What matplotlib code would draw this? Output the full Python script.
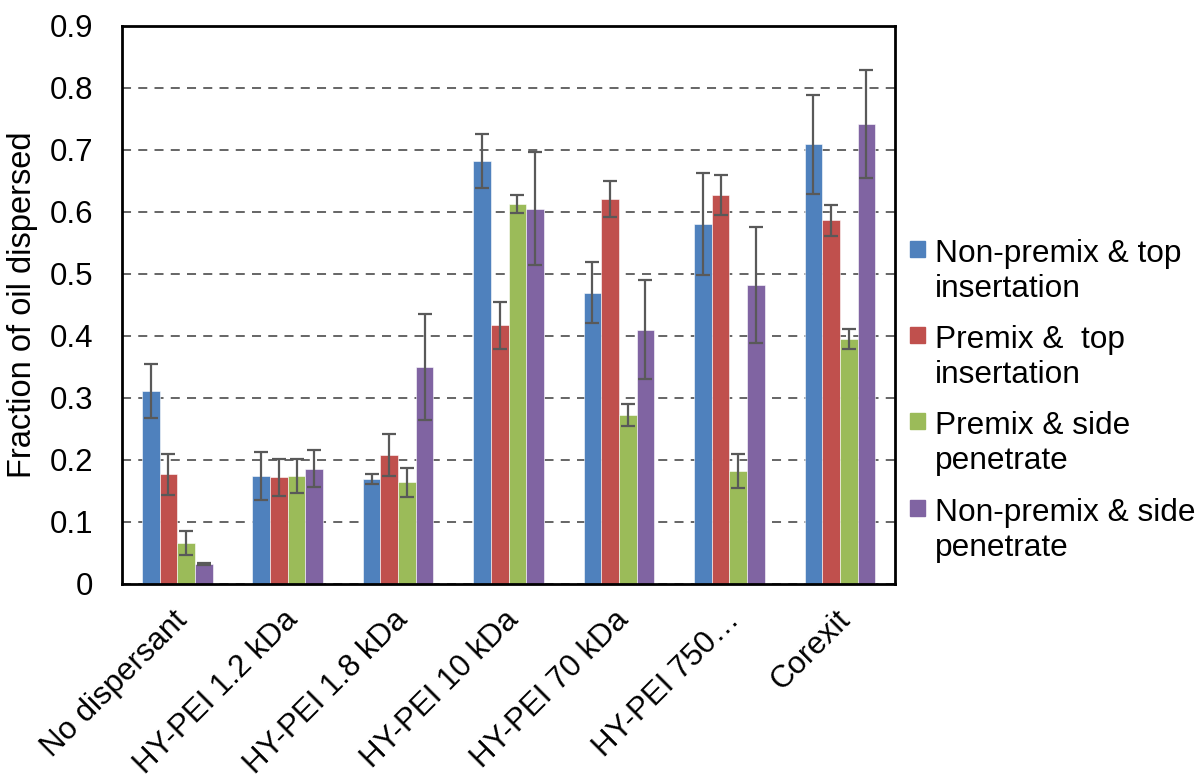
import matplotlib.pyplot as plt
import numpy as np
from matplotlib.patches import Rectangle
from matplotlib.transforms import ScaledTranslation

plt.rcParams['font.family'] = ['Liberation Sans', 'DejaVu Sans']

categories = ['No dispersant', 'HY-PEI 1.2 kDa', 'HY-PEI 1.8 kDa', 'HY-PEI 10 kDa',
              'HY-PEI 70 kDa', 'HY-PEI 750\u2026', 'Corexit']
series_names = ['Non-premix & top\ninsertation', 'Premix &  top\ninsertation',
                'Premix & side\npenetrate', 'Non-premix & side\npenetrate']
colors = ['#4F81BD', '#C0504D', '#9BBB59', '#8064A2']

nonpremix_top = [0.311, 0.174, 0.169, 0.682, 0.470, 0.581, 0.709]
premix_top = [0.177, 0.172, 0.208, 0.417, 0.621, 0.627, 0.587]
premix_side = [0.066, 0.174, 0.164, 0.613, 0.273, 0.182, 0.395]
nonpremix_side = [0.032, 0.186, 0.350, 0.605, 0.410, 0.482, 0.742]

err_nonpremix_top = [0.044, 0.039, 0.008, 0.044, 0.049, 0.082, 0.080]
err_premix_top = [0.033, 0.030, 0.034, 0.038, 0.029, 0.032, 0.025]
err_premix_side = [0.020, 0.028, 0.023, 0.015, 0.018, 0.027, 0.016]
err_nonpremix_side = [0.002, 0.030, 0.086, 0.091, 0.080, 0.094, 0.087]

values = [nonpremix_top, premix_top, premix_side, nonpremix_side]
errors = [err_nonpremix_top, err_premix_top, err_premix_side, err_nonpremix_side]

fig = plt.figure(figsize=(11.99, 7.82), dpi=100)
ax = fig.add_axes([0.1018, 0.2532, 0.6447, 0.7136])

x = np.arange(len(categories))
w = 0.16
for i in range(4):
    pos = x + (i - 1.5) * w
    ax.bar(pos, values[i], w, color=colors[i], edgecolor='white', linewidth=0.4, zorder=2)
    ax.errorbar(pos, values[i], yerr=errors[i], fmt='none', ecolor='#595959',
                elinewidth=1.6, capsize=5, capthick=1.6, zorder=3)

ax.set_xlim(-0.5, len(categories) - 0.5)
ax.set_ylim(0, 0.9)
ax.set_yticks(np.arange(0, 0.91, 0.1))
ax.set_yticklabels(['0'] + ['%.1f' % v for v in np.arange(0.1, 0.91, 0.1)])
ax.yaxis.grid(True, linestyle=(0, (5, 4)), color='#595959', linewidth=1.3, zorder=0)
ax.set_axisbelow(True)
ax.tick_params(axis='y', length=0, pad=21, labelsize=22.5)
ax.tick_params(axis='x', length=0, pad=15, labelsize=22.5)
ax.set_xticks(x)
ax.set_xticklabels(categories, rotation=45, ha='right', va='top', rotation_mode='anchor')
shift = ScaledTranslation(-5 / 100, 0, fig.dpi_scale_trans)
for lab in ax.get_xticklabels():
    lab.set_transform(lab.get_transform() + shift)
for s in ax.spines.values():
    s.set_linewidth(2)
    s.set_color('black')
ax.set_ylabel('Fraction of oil dispersed', fontsize=23.5, labelpad=8)

# legend, squares lined up with the first text line
cap_top = [241, 327, 413, 500]
for i in range(4):
    y_px = cap_top[i]
    fig.patches.append(Rectangle((910 / 1199, 1 - (y_px + 16) / 782), 15 / 1199, 16 / 782,
                                 transform=fig.transFigure, color=colors[i]))
    for k, line in enumerate(series_names[i].split('\n')):
        fig.text(935 / 1199, 1 - (y_px + 21 + 35 * k) / 782, line, fontsize=22.8,
                 va='baseline', ha='left')

fig.savefig('out.png', dpi=100)
